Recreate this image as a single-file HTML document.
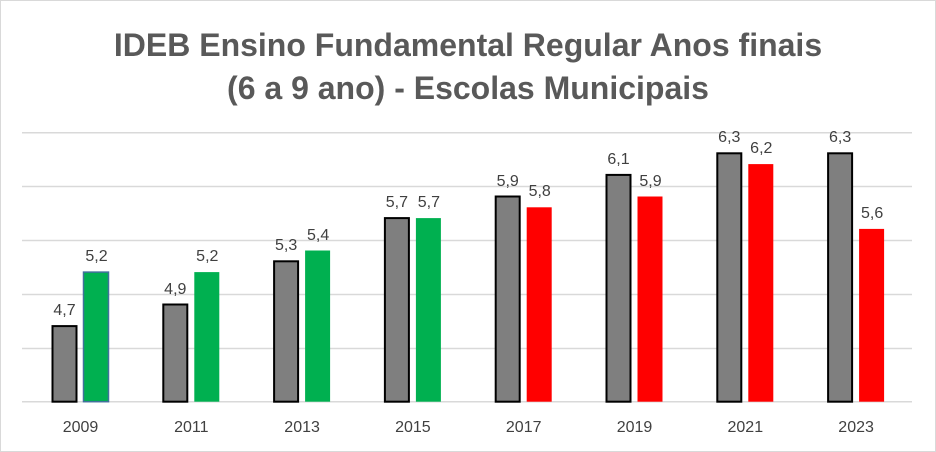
<!DOCTYPE html>
<html><head><meta charset="utf-8"><style>
html,body{margin:0;padding:0;background:#fff}
svg{display:block}
text{font-family:"Liberation Sans",sans-serif}
</style></head><body>
<svg width="936" height="452" xmlns="http://www.w3.org/2000/svg">
<rect x="0.5" y="0.5" width="935" height="451" fill="#fff" stroke="#d9d9d9"/>
<text x="468" y="56" text-anchor="middle" font-size="32" font-weight="bold" fill="#595959">IDEB Ensino Fundamental Regular Anos finais</text>
<text x="468" y="99" text-anchor="middle" font-size="32" font-weight="bold" fill="#595959">(6 a 9 ano) - Escolas Municipais</text>
<g stroke="#d9d9d9" stroke-width="1.5">
<line x1="22" x2="912" y1="132.7" y2="132.7"/>
<line x1="22" x2="912" y1="186.5" y2="186.5"/>
<line x1="22" x2="912" y1="240.5" y2="240.5"/>
<line x1="22" x2="912" y1="294.5" y2="294.5"/>
<line x1="22" x2="912" y1="348.5" y2="348.5"/>
<line x1="22" x2="912" y1="401.7" y2="401.7"/>
</g>
<g stroke="#000" stroke-width="2" fill="#7f7f7f">
<rect x="52.5" y="326.1" width="24" height="75.6"/>
<rect x="163.3" y="304.5" width="24" height="97.2"/>
<rect x="274.1" y="261.3" width="24" height="140.4"/>
<rect x="384.9" y="218.1" width="24" height="183.6"/>
<rect x="495.7" y="196.5" width="24" height="205.2"/>
<rect x="606.5" y="174.9" width="24" height="226.8"/>
<rect x="717.3" y="153.3" width="24" height="248.4"/>
<rect x="828.1" y="153.3" width="24" height="248.4"/>
</g>
<rect x="83.5" y="272.1" width="25" height="129.6" fill="#00b050" stroke="#41719c" stroke-width="1.5"/>
<g fill="#00b050">
<rect x="194.3" y="272.1" width="25" height="129.6"/>
<rect x="305.1" y="250.5" width="25" height="151.2"/>
<rect x="415.9" y="218.1" width="25" height="183.6"/>
</g>
<g fill="#ff0000">
<rect x="526.7" y="207.3" width="25" height="194.4"/>
<rect x="637.5" y="196.5" width="25" height="205.2"/>
<rect x="748.3" y="164.1" width="25" height="237.6"/>
<rect x="859.1" y="228.9" width="25" height="172.8"/>
</g>
<g font-size="16" fill="#404040" text-anchor="middle">
<text x="64.5" y="315">4,7</text><text x="96.5" y="261">5,2</text>
<text x="175.3" y="294">4,9</text><text x="207.3" y="261">5,2</text>
<text x="286.1" y="250">5,3</text><text x="318.1" y="240">5,4</text>
<text x="396.9" y="207">5,7</text><text x="428.9" y="207">5,7</text>
<text x="507.7" y="186">5,9</text><text x="539.7" y="196">5,8</text>
<text x="618.5" y="164">6,1</text><text x="650.5" y="186">5,9</text>
<text x="729.3" y="142">6,3</text><text x="761.3" y="153">6,2</text>
<text x="840.1" y="142">6,3</text><text x="872.1" y="218">5,6</text>
<text x="80.5" y="432">2009</text><text x="191.3" y="432">2011</text>
<text x="302.1" y="432">2013</text><text x="412.9" y="432">2015</text>
<text x="523.7" y="432">2017</text><text x="634.5" y="432">2019</text>
<text x="745.3" y="432">2021</text><text x="856.1" y="432">2023</text>
</g>
</svg>
</body></html>
